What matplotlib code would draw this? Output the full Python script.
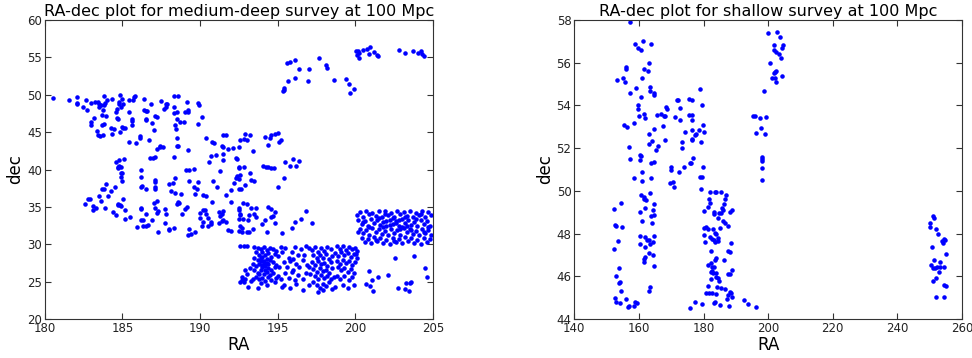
import numpy as np
import matplotlib
matplotlib.use('Agg')
import matplotlib.pyplot as plt

# medium-deep survey: (RA, dec), grouped by region
upper_left = [
    (180.56, 49.6), (181.57, 49.35), (182.06, 49.65), (182.1, 48.95), (182.1, 48.8),
    (182.64, 49.3), (182.49, 48.4), (182.7, 48.0), (182.96, 48.9), (182.96, 46.4),
    (182.96, 46.0), (183.2, 46.85), (183.26, 49.1), (183.4, 49.0), (183.5, 48.8),
    (183.6, 48.6), (183.5, 48.4), (183.76, 48.0), (183.84, 48.6), (183.88, 48.9),
    (184.03, 49.35), (184.3, 49.4), (183.84, 49.85), (183.67, 47.25), (183.35, 45.2),
    (183.45, 44.6), (183.58, 44.55), (183.77, 44.6), (183.7, 45.9), (183.8, 46.05),
    (184.25, 45.6), (184.35, 44.7), (184.46, 45.4), (183.95, 47.1), (184.57, 47.7),
    (184.68, 46.9), (184.74, 46.7), (184.63, 48.15), (184.8, 48.7), (184.9, 48.4),
    (184.83, 50.0), (184.8, 49.1), (184.96, 49.4), (185.06, 48.75), (184.85, 45.0),
    (184.97, 45.65), (185.06, 45.5), (185.2, 45.5), (185.4, 49.3), (185.4, 47.7),
    (185.6, 45.9), (185.6, 46.5), (185.62, 46.7), (185.67, 49.3), (185.75, 49.75),
    (185.8, 49.9), (185.4, 43.7), (185.9, 43.5), (186.16, 44.5), (186.16, 44.15),
    (186.4, 49.5), (186.4, 47.9), (186.5, 47.85), (186.6, 47.85), (186.5, 46.6),
    (186.5, 46.75), (186.73, 44.0), (186.86, 48.8), (186.88, 46.2), (187.1, 47.2),
    (187.25, 47.0), (187.06, 45.3), (187.2, 42.75), (186.8, 41.6), (187.0, 41.6),
    (187.07, 41.7), (187.4, 43.1), (187.5, 49.2), (187.45, 43.0), (187.6, 43.0),
    (187.7, 48.15), (187.8, 48.8), (187.9, 48.8), (187.8, 48.4), (188.3, 48.4),
    (188.3, 49.8), (188.6, 49.9), (188.35, 47.6), (188.5, 47.7), (188.5, 46.8),
    (188.4, 45.9), (188.45, 45.4), (188.7, 46.3), (188.5, 44.2), (188.5, 43.2),
    (188.35, 41.7), (188.6, 43.1), (189.16, 49.1), (189.0, 47.65), (189.2, 42.65),
    (189.2, 47.7), (189.2, 48.0), (188.95, 46.4), (189.9, 48.85), (189.96, 48.6),
    (190.1, 47.0), (189.9, 46.15), (190.4, 44.2), (190.8, 43.65), (190.9, 43.5),
    (190.6, 41.0), (190.7, 41.8), (191.0, 41.9), (191.5, 44.6), (191.66, 44.65),
    (191.5, 42.1), (191.5, 41.25), (191.8, 42.75), (191.4, 43.1), (191.5, 43.0),
    (192.4, 41.4), (192.5, 43.0), (192.6, 43.9), (192.5, 40.2), (192.6, 39.2),
    (192.8, 40.4),
]

mid_left = [
    (184.78, 41.3), (184.6, 40.95), (184.7, 40.4), (184.8, 40.5), (184.9, 40.3),
    (184.7, 40.2), (184.9, 39.55), (185.0, 39.6), (184.9, 39.0), (185.0, 38.45),
    (185.1, 41.35), (184.5, 37.7), (184.25, 37.1), (184.1, 36.4), (183.95, 38.1),
    (183.8, 37.4), (183.7, 37.4), (183.5, 36.4), (183.6, 35.8), (182.8, 36.1),
    (182.9, 36.1), (182.6, 35.4), (183.1, 35.1), (183.1, 34.55), (183.3, 34.85),
    (183.9, 34.85), (184.4, 34.3), (184.6, 33.9), (184.7, 35.4), (184.74, 35.2),
    (184.83, 35.2), (184.9, 35.1), (185.06, 36.0), (185.2, 34.6), (185.17, 33.4),
    (185.5, 33.7), (186.2, 40.0), (186.2, 39.05), (186.28, 37.8), (186.2, 37.7),
    (186.55, 37.45), (186.2, 34.85), (186.2, 34.7), (186.2, 33.3), (186.5, 34.05),
    (186.35, 33.25), (185.97, 32.3), (186.35, 32.5), (186.5, 32.5), (186.67, 32.6),
    (187.1, 38.6), (187.1, 38.3), (187.1, 37.7), (187.1, 37.4), (187.04, 35.5),
    (187.2, 35.8), (187.1, 34.8), (187.2, 34.2), (187.3, 34.45), (186.9, 33.3),
    (187.3, 31.6), (187.76, 32.8), (187.8, 34.05), (187.76, 34.7), (188.0, 38.0),
    (188.1, 37.15), (188.26, 38.25), (188.4, 38.8), (188.0, 32.0), (187.98, 31.9),
    (188.3, 32.2), (188.6, 35.6), (188.5, 35.45), (188.67, 35.5), (188.4, 36.8),
    (188.8, 36.7), (188.86, 34.0), (189.0, 34.65), (189.16, 34.95), (189.1, 39.9),
    (189.3, 40.0), (189.6, 40.05), (189.3, 38.4), (189.6, 37.7), (189.8, 37.35),
    (189.7, 36.7), (189.9, 38.3), (189.3, 32.1), (189.4, 31.4), (189.7, 31.6),
    (189.2, 31.3), (190.0, 34.2), (190.0, 33.55), (190.2, 33.0), (190.1, 32.5),
    (190.2, 34.6), (190.3, 34.6), (190.2, 36.6), (190.4, 36.4), (190.4, 34.0),
    (190.5, 33.5), (190.7, 32.7), (190.5, 32.5), (190.7, 33.0), (190.75, 35.6),
    (190.85, 38.5), (191.1, 37.6), (191.2, 34.3), (191.3, 33.8), (191.4, 34.0),
    (191.4, 33.1), (191.5, 33.2), (191.3, 39.8), (191.2, 32.8), (191.5, 34.5),
    (191.7, 33.0), (191.7, 36.6), (192.0, 37.2), (192.0, 35.7), (191.8, 31.9),
    (192.0, 31.8), (192.4, 39.1), (192.3, 38.8), (192.2, 38.2), (192.5, 34.6),
    (192.5, 34.8), (192.5, 33.4), (192.6, 33.9), (192.5, 31.8), (192.7, 31.7),
    (192.7, 32.2), (192.6, 32.5),
]

mid_center = [
    (192.9, 44.7), (193.2, 44.6), (192.8, 44.1), (193.0, 43.9), (194.2, 44.4),
    (194.5, 44.2), (194.6, 44.6), (194.8, 44.75), (195.0, 44.85), (195.1, 43.7),
    (195.2, 44.0), (194.35, 43.25), (193.4, 42.5), (192.1, 42.9), (192.3, 41.5),
    (195.5, 41.0), (196.0, 41.35), (195.8, 40.5), (196.2, 40.5), (196.35, 41.15),
    (194.08, 40.5), (194.23, 40.35), (194.4, 40.35), (194.55, 40.25), (194.74, 40.17),
    (193.2, 39.5), (193.3, 38.65), (193.5, 38.4), (192.5, 40.4), (192.5, 38.7),
    (192.9, 37.9), (192.5, 37.4), (192.66, 37.4), (195.0, 37.7), (195.4, 38.8),
    (192.75, 35.5), (193.0, 35.45), (193.3, 34.8), (193.6, 34.8), (193.15, 33.9),
    (193.1, 33.2), (193.5, 34.1), (193.6, 33.6), (192.6, 34.1), (192.75, 33.4),
    (193.0, 31.65), (193.15, 31.7), (193.4, 32.05), (194.4, 35.0), (194.6, 34.65),
    (194.8, 34.25), (194.7, 33.75), (194.6, 33.66), (194.2, 33.2), (194.0, 32.7),
    (194.3, 31.6), (194.8, 32.8), (195.3, 31.5), (195.9, 32.15), (196.1, 33.0),
    (196.5, 33.4), (196.8, 34.4), (197.2, 32.8),
]

upper_arc = [
    (195.32, 50.55), (195.43, 50.7), (195.4, 50.87), (195.67, 51.8), (195.62, 54.2),
    (195.8, 54.35), (196.14, 54.7), (196.1, 52.3), (196.4, 53.4), (196.93, 51.9),
    (197.04, 53.4), (197.66, 54.88), (198.11, 54.0), (198.2, 53.55), (198.65, 51.94),
    (199.38, 52.07), (199.57, 51.4), (199.65, 50.2), (199.9, 50.8),
    (200.05, 55.85), (200.19, 55.9), (200.21, 55.55), (200.1, 55.3), (200.26, 54.96),
    (200.48, 56.0), (200.77, 56.1), (200.95, 56.43), (200.88, 55.45), (201.22, 55.7),
    (201.38, 55.3), (201.44, 55.2), (202.8, 56.03), (203.18, 55.63), (203.73, 55.85),
    (204.06, 55.55), (204.23, 55.9), (204.31, 55.4), (204.4, 55.2),
]

low_cluster = [
    (192.6, 29.8), (192.8, 29.7), (193.0, 29.7), (192.7, 25.6), (192.7, 25.2),
    (192.8, 25.0), (192.9, 25.4), (193.0, 26.0), (192.6, 24.9), (193.1, 24.3),
    (192.9, 26.6), (193.3, 25.1), (193.4, 25.4), (193.2, 26.8),
    (193.5, 29.6), (193.7, 29.5), (193.9, 29.3), (194.1, 29.6), (194.3, 29.2),
    (194.5, 29.5), (194.7, 29.4), (194.9, 29.1), (195.2, 29.6), (193.6, 28.9),
    (193.8, 28.6), (194.0, 28.9), (194.2, 28.5), (194.4, 28.8), (194.6, 28.3),
    (194.8, 28.7), (195.0, 28.4), (193.5, 28.2), (193.7, 27.9), (193.9, 28.1),
    (194.1, 27.8), (194.3, 27.5), (194.5, 27.9), (194.7, 27.6), (194.9, 27.2),
    (193.4, 27.4), (193.6, 27.1), (193.8, 27.3), (194.0, 26.9), (194.2, 27.1),
    (194.4, 26.8), (194.6, 26.5), (194.8, 26.9), (195.1, 27.0), (193.5, 26.5),
    (193.7, 26.2), (193.9, 26.6), (194.1, 26.0), (194.3, 26.3), (194.5, 25.9),
    (194.7, 26.1), (195.0, 25.8), (193.6, 25.6), (193.8, 25.3), (194.0, 25.5),
    (194.2, 25.1), (194.4, 25.6), (194.6, 25.2), (194.9, 25.5), (193.9, 24.8),
    (194.3, 24.5), (194.8, 24.9), (195.3, 24.3), (193.7, 24.2), (194.1, 27.4),
    (193.9, 27.7), (194.3, 28.0), (194.0, 28.3), (193.8, 26.0), (194.2, 26.6),
    (194.4, 27.3), (194.0, 27.2),
    (195.3, 28.9), (195.5, 29.5), (195.7, 28.2), (195.9, 29.0), (196.1, 29.6),
    (196.3, 28.6), (196.5, 29.3), (196.8, 29.7), (197.0, 29.5), (195.4, 27.6),
    (195.6, 27.0), (195.8, 27.8), (196.0, 26.6), (196.2, 27.3), (196.4, 26.9),
    (196.6, 27.9), (196.9, 27.2), (195.5, 26.1), (195.7, 25.5), (195.9, 26.3),
    (196.1, 25.2), (196.3, 25.9), (196.6, 25.4), (196.8, 26.2), (195.4, 24.5),
    (195.8, 24.1), (196.2, 24.7), (196.6, 23.9), (197.0, 24.6), (195.2, 25.3),
    (196.0, 28.0), (196.7, 28.5),
    (197.2, 29.2), (197.4, 29.6), (197.6, 29.0), (197.8, 29.5), (198.0, 29.1),
    (198.2, 29.6), (198.4, 29.3), (197.3, 28.5), (197.5, 28.1), (197.7, 28.6),
    (197.9, 28.2), (198.1, 28.7), (198.3, 28.0), (198.5, 28.4), (197.2, 27.6),
    (197.4, 27.2), (197.6, 27.7), (197.8, 27.3), (198.0, 27.5), (198.2, 27.1),
    (198.4, 27.6), (197.3, 26.7), (197.5, 26.3), (197.7, 26.8), (197.9, 26.4),
    (198.1, 26.6), (198.3, 26.2), (198.5, 26.8), (197.4, 25.8), (197.6, 25.4),
    (197.8, 25.9), (198.0, 25.5), (198.2, 25.8), (198.4, 25.3), (197.3, 24.9),
    (197.5, 24.5), (197.7, 24.2), (197.9, 24.7), (198.1, 24.4), (198.3, 24.9),
    (197.6, 23.6), (197.9, 23.9), (198.5, 24.0), (197.1, 26.0), (197.0, 27.0),
    (198.6, 25.6),
    (198.8, 29.8), (199.0, 29.4), (199.2, 29.7), (199.4, 29.2), (199.6, 29.6),
    (199.8, 29.3), (200.0, 29.5), (198.7, 28.8), (198.9, 28.4), (199.1, 28.9),
    (199.3, 28.5), (199.5, 28.8), (199.7, 28.3), (199.9, 28.7), (198.8, 27.8),
    (199.0, 27.4), (199.2, 27.9), (199.4, 27.5), (199.6, 27.8), (199.8, 27.2),
    (200.0, 27.6), (198.9, 26.9), (199.1, 26.5), (199.3, 26.8), (199.5, 26.3),
    (199.7, 26.7), (199.9, 26.1), (198.8, 25.8), (199.0, 25.4), (199.3, 25.7),
    (199.6, 25.2), (199.8, 25.6), (199.2, 24.6), (199.5, 24.2), (199.9, 24.5),
    (198.7, 24.3), (200.1, 28.1), (200.1, 29.1),
]

right_cluster = [
    (200.3, 34.3), (200.7, 34.5), (201.1, 34.2), (201.5, 34.4), (201.9, 34.5),
    (202.3, 34.2), (202.7, 34.5), (203.1, 34.3), (203.5, 34.4), (203.9, 34.2),
    (204.3, 34.5), (204.7, 34.3),
    (200.1, 33.9), (200.5, 33.7), (200.9, 34.0), (201.3, 33.8), (201.7, 33.6),
    (202.1, 33.9), (202.5, 33.7), (202.9, 34.0), (203.3, 33.8), (203.7, 33.6),
    (204.1, 33.9), (204.5, 33.7), (204.9, 33.9),
    (200.2, 33.3), (200.6, 33.1), (201.0, 33.4), (201.4, 33.2), (201.8, 33.0),
    (202.2, 33.3), (202.6, 33.1), (203.0, 33.4), (203.4, 33.2), (203.8, 33.0),
    (204.2, 33.3), (204.6, 33.1), (202.4, 33.5), (202.8, 33.2),
    (200.4, 32.7), (200.8, 32.5), (201.2, 32.8), (201.6, 32.6), (202.0, 32.4),
    (202.4, 32.7), (202.8, 32.5), (203.2, 32.8), (203.6, 32.6), (204.0, 32.4),
    (204.4, 32.7), (204.8, 32.5), (202.6, 32.9), (203.0, 32.3),
    (200.3, 32.1), (200.7, 31.9), (201.1, 32.2), (201.5, 32.0), (201.9, 31.8),
    (202.3, 32.1), (202.7, 31.9), (203.1, 32.2), (203.5, 32.0), (203.9, 31.8),
    (204.3, 32.1), (204.7, 31.9),
    (200.5, 31.5), (200.9, 31.3), (201.3, 31.6), (201.7, 31.4), (202.1, 31.2),
    (202.5, 31.5), (202.9, 31.3), (203.3, 31.6), (203.7, 31.4), (204.1, 31.2),
    (204.5, 31.5), (204.9, 31.3),
    (200.4, 30.9), (200.8, 30.7), (201.2, 31.0), (201.6, 30.8), (202.0, 30.6),
    (202.4, 30.9), (202.8, 30.7), (203.2, 31.0), (203.6, 30.8), (204.0, 30.6),
    (204.4, 30.9), (204.8, 30.7),
    (200.6, 30.3), (201.0, 30.1), (201.4, 30.4), (201.8, 30.2), (202.2, 30.0),
    (202.6, 30.3), (203.0, 30.1), (203.4, 30.4), (203.8, 30.2), (204.2, 30.0),
    (204.6, 30.3),
    (201.5, 33.5), (202.0, 33.1), (202.9, 32.0), (203.3, 32.5), (202.2, 32.6),
    (201.8, 32.3), (203.9, 33.4), (204.4, 31.7), (200.9, 32.3), (201.3, 30.6),
    (203.6, 31.9), (202.5, 30.5), (204.7, 32.3), (200.2, 31.7), (200.5, 33.0),
    (201.9, 34.1), (203.2, 33.6), (204.2, 34.0),
]

low_scatter = [
    (200.07, 28.7), (202.58, 28.22), (200.9, 26.45), (201.48, 25.6), (202.1, 25.9),
    (200.69, 24.66), (200.95, 24.4), (201.1, 25.2), (201.12, 23.7), (202.77, 24.1),
    (203.18, 24.04), (203.25, 24.75), (203.5, 24.75), (203.6, 25.0), (203.47, 23.7),
    (203.78, 28.45), (204.5, 26.8), (204.6, 25.65),
]

# shallow survey
shallow_left = [
    (157.1, 57.9), (158.8, 56.9), (159.6, 56.7), (160.8, 56.6), (161.4, 57.0),
    (163.7, 56.9), (163.0, 56.0), (161.6, 55.7), (162.7, 55.6), (160.9, 55.3),
    (153.3, 55.2), (155.1, 55.3), (155.7, 55.1), (156.1, 55.8), (156.1, 55.7),
    (159.0, 54.8), (157.4, 54.6), (163.3, 54.85), (163.3, 54.7), (164.6, 54.6),
    (164.8, 54.5), (160.6, 54.4), (159.8, 54.0), (159.8, 53.85), (160.1, 53.5),
    (161.5, 53.6), (161.9, 53.4), (155.3, 53.1), (156.4, 53.0), (158.6, 53.2),
    (164.6, 52.9), (163.0, 52.65), (164.2, 52.35), (163.0, 52.2), (165.8, 52.1),
    (165.4, 51.9), (156.9, 52.05), (157.3, 51.5), (160.5, 51.7), (160.7, 51.65),
    (160.3, 51.45), (164.6, 51.35), (163.8, 51.3), (161.0, 50.9), (158.6, 50.6),
    (161.0, 50.45), (163.8, 50.6), (163.3, 49.9), (160.8, 49.8), (161.6, 49.7),
    (161.7, 49.6), (162.3, 49.55), (164.8, 49.4), (154.4, 49.45), (152.4, 49.15),
    (162.0, 49.2), (164.4, 49.1), (164.6, 48.85), (163.7, 48.8), (160.4, 49.0),
    (160.9, 48.6), (164.2, 48.5), (152.7, 48.4), (152.9, 48.35), (154.8, 48.3),
    (160.4, 47.9), (162.0, 47.85), (164.8, 47.9), (162.5, 47.7), (163.0, 47.7),
    (164.5, 47.6), (153.4, 47.65), (160.5, 47.5), (163.3, 47.5), (162.0, 47.35),
    (152.3, 47.3), (163.2, 47.1), (162.0, 46.9), (161.6, 46.8), (161.6, 46.65),
    (164.4, 47.0), (164.8, 46.5), (153.9, 46.4), (152.9, 46.0), (153.9, 45.7),
    (154.3, 45.75), (154.6, 45.3), (163.5, 45.5), (163.2, 45.3), (152.7, 45.0),
    (152.8, 44.8), (154.3, 44.75), (155.9, 44.95), (158.7, 44.8), (159.4, 44.75),
    (156.6, 44.55), (157.0, 44.6), (158.6, 44.6),
    (165.7, 53.55), (166.8, 53.6), (167.7, 53.5), (168.0, 53.5), (168.4, 53.95),
    (168.6, 53.85), (171.1, 53.45), (172.6, 53.9), (171.9, 54.25), (172.1, 54.25),
    (175.5, 54.3), (176.4, 54.25), (172.6, 53.3), (174.2, 52.75), (167.5, 53.05),
    (168.2, 52.4), (173.4, 52.3), (173.2, 52.0), (169.8, 51.1), (170.0, 51.0),
    (172.4, 50.9), (174.1, 51.1), (169.5, 50.35), (170.6, 50.4), (170.9, 50.2),
    (175.7, 51.3), (175.4, 53.55), (176.5, 53.55), (176.3, 53.3), (178.9, 54.75),
    (179.5, 54.0), (179.7, 53.1), (180.0, 52.75), (178.7, 52.85), (176.3, 52.85),
    (177.3, 52.6), (177.7, 52.65), (176.3, 52.45), (176.5, 52.4), (179.3, 52.3),
    (176.8, 51.55), (176.1, 51.3), (179.9, 51.1), (178.9, 50.65), (179.6, 50.65),
    (179.1, 50.1), (175.7, 44.5),
]

shallow_mid = [
    (180.0, 49.05), (182.1, 49.95), (183.8, 49.95), (183.6, 49.95), (185.4, 49.95),
    (187.0, 49.8), (186.8, 49.6), (186.4, 49.4), (185.8, 49.2), (181.6, 49.6),
    (182.0, 49.45), (181.3, 49.25), (183.1, 49.0), (183.2, 48.9), (184.4, 48.75),
    (184.8, 48.95), (185.3, 48.95), (185.9, 49.1), (188.2, 49.0), (188.7, 49.1),
    (186.0, 48.6), (186.6, 48.5), (185.1, 48.27), (187.7, 48.35), (180.0, 48.27),
    (180.9, 48.3), (181.5, 48.2), (182.8, 48.2), (183.5, 48.05), (183.8, 48.0),
    (184.4, 47.8), (180.0, 47.95), (180.5, 47.6), (182.1, 47.85), (182.6, 47.75),
    (183.2, 47.7), (183.5, 47.6), (184.6, 47.65), (188.5, 47.55), (182.3, 47.2),
    (187.5, 47.2), (188.3, 47.15), (183.9, 46.85), (183.5, 46.75), (186.4, 46.75),
    (181.3, 46.55), (182.4, 46.6), (182.7, 46.45), (183.4, 46.45), (182.2, 46.2),
    (182.7, 46.25), (183.0, 46.15), (183.8, 46.15), (188.2, 46.1), (187.7, 46.1),
    (188.7, 46.3), (183.9, 45.95), (184.4, 45.9), (184.9, 45.8), (182.3, 45.85),
    (181.5, 45.55), (184.1, 45.5), (185.3, 45.45), (186.6, 45.4), (180.8, 45.2),
    (181.7, 45.2), (182.6, 45.2), (184.0, 45.15), (188.3, 45.25), (188.5, 45.2),
    (187.7, 45.1), (187.4, 44.95), (188.9, 45.05), (183.3, 44.75), (183.7, 44.8),
    (185.0, 44.65), (188.0, 44.6), (179.5, 44.7), (177.3, 44.8), (192.6, 44.9),
    (193.9, 44.7), (196.3, 44.55),
]

shallow_right = [
    (200.06, 57.4), (202.75, 57.45), (203.8, 57.2), (201.9, 56.85), (204.7, 56.85),
    (204.4, 56.7), (201.7, 56.6), (202.4, 56.5), (203.4, 56.4), (203.98, 56.2),
    (200.5, 56.0), (202.5, 55.6), (202.1, 55.55), (201.8, 55.5), (201.2, 55.3),
    (202.0, 55.3), (202.4, 55.1), (204.3, 55.4), (198.7, 54.7),
    (195.3, 53.5), (196.0, 53.5), (199.3, 53.45), (197.5, 53.4), (197.8, 52.95),
    (196.2, 52.7), (198.9, 52.65), (198.1, 51.6), (198.1, 51.5), (198.2, 51.4),
    (198.2, 51.05), (198.1, 50.5),
    (250.9, 48.8), (251.3, 48.75), (250.0, 48.5), (250.2, 48.3), (252.1, 48.2),
    (252.7, 48.0), (254.5, 47.75), (254.8, 47.7), (253.8, 47.65), (254.1, 47.55),
    (250.8, 47.35), (254.9, 47.05), (251.4, 46.75), (253.1, 46.65), (250.5, 46.55),
    (250.9, 46.4), (251.6, 46.4), (252.2, 46.45), (253.1, 46.45), (252.9, 46.2),
    (254.4, 46.45), (251.0, 45.8), (252.0, 45.9), (254.4, 45.6), (255.1, 45.55),
    (252.1, 45.05), (254.4, 45.05),
]

medium = np.array(upper_left + mid_left + mid_center + upper_arc
                  + low_cluster + right_cluster + low_scatter)
shallow = np.array(shallow_left + shallow_mid + shallow_right)

fig = plt.figure(figsize=(9.72, 3.58), dpi=100)
ax1 = fig.add_axes([0.046, 0.109, 0.3995, 0.835])
ax2 = fig.add_axes([0.5908, 0.109, 0.3989, 0.835])

for ax, pts, title in [(ax1, medium, 'RA-dec plot for medium-deep survey at 100 Mpc'),
                       (ax2, shallow, 'RA-dec plot for shallow survey at 100 Mpc')]:
    ax.plot(pts[:, 0], pts[:, 1], '.', color='b', ms=4.5, mec='b')
    ax.set_title(title, fontsize=11.5, pad=3)
    ax.set_xlabel('RA', fontsize=12, labelpad=1)
    ax.set_ylabel('dec', fontsize=12, labelpad=2)
    ax.tick_params(direction='in', top=True, right=True, labelsize=8.5,
                   length=4, pad=2, color='#333333', labelcolor='#222222')
    for s in ax.spines.values():
        s.set_color('#333333')

ax1.set_xlim(180, 205)
ax1.set_ylim(20, 60)
ax1.set_xticks(np.arange(180, 206, 5))
ax1.set_yticks(np.arange(20, 61, 5))

ax2.set_xlim(140, 260)
ax2.set_ylim(44, 58)
ax2.set_xticks(np.arange(140, 261, 20))
ax2.set_yticks(np.arange(44, 59, 2))

fig.savefig('out.png', dpi=100)
